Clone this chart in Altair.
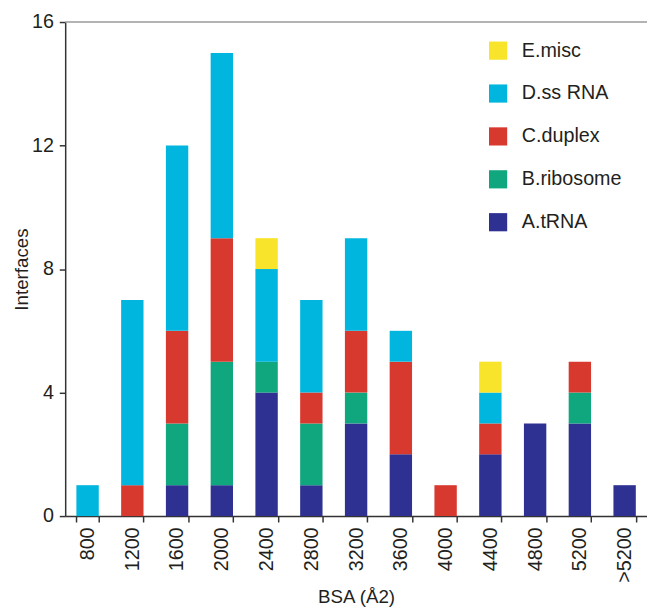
import altair as alt
import pandas as pd

categories = ["800", "1200", "1600", "2000", "2400", "2800", "3200", "3600",
              "4000", "4400", "4800", "5200", ">5200"]
series = ["A.tRNA", "B.ribosome", "C.duplex", "D.ss RNA", "E.misc"]
a_trna     = [0, 0, 1, 1, 4, 1, 3, 2, 0, 2, 3, 3, 1]
b_ribosome = [0, 0, 2, 4, 1, 2, 1, 0, 0, 0, 0, 1, 0]
c_duplex   = [0, 1, 3, 4, 0, 1, 2, 3, 1, 1, 0, 1, 0]
d_ssrna    = [1, 6, 6, 6, 3, 3, 3, 1, 0, 1, 0, 0, 0]
e_misc     = [0, 0, 0, 0, 1, 0, 0, 0, 0, 1, 0, 0, 0]
colors = ["#2E3192", "#10A67E", "#D8392F", "#00B6DE", "#F8E42A"]
y_ticks = [0, 4, 8, 12, 16]

vals = [a_trna, b_ribosome, c_duplex, d_ssrna, e_misc]
rows = []
for si, (s, v) in enumerate(zip(series, vals)):
    for c, n in zip(categories, v):
        rows.append({"BSA": c, "Type": s, "Count": n, "ord": si})
df = pd.DataFrame(rows)

font = "Liberation Sans"
ink = "#231F20"
legend_domain = series[::-1]
legend_range = colors[::-1]

bars = alt.Chart(df).mark_bar().encode(
    x=alt.X("BSA:N", sort=categories,
            scale=alt.Scale(paddingInner=0.5, paddingOuter=0.25),
            axis=alt.Axis(title="BSA (Å2)", labelAngle=-90, tickBand="extent",
                          labelPadding=5, titlePadding=5, titleFontSize=19)),
    y=alt.Y("Count:Q", stack="zero",
            scale=alt.Scale(domain=[0, 16], nice=False),
            axis=alt.Axis(title="Interfaces", values=y_ticks, grid=False,
                          titleFontSize=19, titlePadding=0, labelPadding=6,
                          tickSize=6)),
    color=alt.Color("Type:N",
                    scale=alt.Scale(domain=legend_domain, range=legend_range),
                    legend=alt.Legend(title=None, orient="none", legendX=429,
                                      legendY=19, symbolType="square",
                                      symbolSize=340, symbolStrokeWidth=0,
                                      symbolOpacity=1,
                                      labelFontSize=20, labelFont=font,
                                      labelColor=ink, rowPadding=23.5,
                                      labelOffset=14, padding=0)),
    order=alt.Order("ord:Q", sort="ascending"),
)

top = alt.Chart(pd.DataFrame({"y": [16]})).mark_rule(color="#9A9A9A", strokeWidth=1.5).encode(
    y="y:Q"
)

chart = alt.layer(bars, top).properties(
    width=590, height=501,
    autosize=alt.AutoSizeParams(type="none"),
    padding={"left": 58, "top": 10, "right": 0, "bottom": 90},
).configure_view(stroke=None).configure_axis(
    labelFont=font, titleFont=font, labelFontSize=20, titleFontSize=20,
    labelColor=ink, titleColor=ink, titleFontWeight="normal",
    domainColor="#333333", tickColor="#333333", domainWidth=1.5, tickWidth=1.5,
    tickSize=6,
)

chart.save("out.html", embed_options={"renderer": "svg", "actions": False})
